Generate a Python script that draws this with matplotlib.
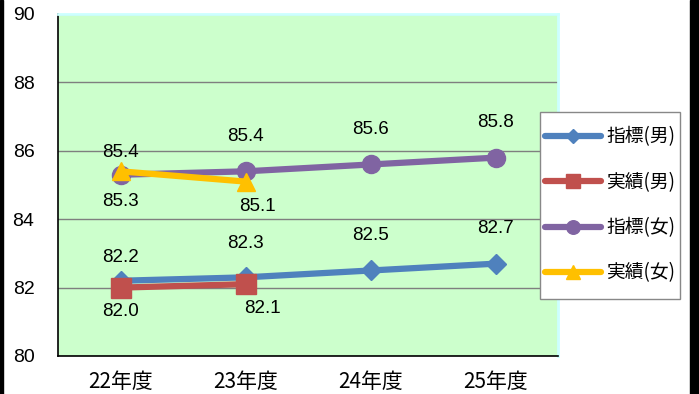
import matplotlib.pyplot as plt
from matplotlib.patches import Rectangle

plt.rcParams['font.family'] = ['Liberation Sans', 'Noto Sans CJK JP', 'DejaVu Sans']

years = ['22年度', '23年度', '24年度', '25年度']
target_m = [82.2, 82.3, 82.5, 82.7]
actual_m = [82.0, 82.1]
target_f = [85.3, 85.4, 85.6, 85.8]
actual_f = [85.4, 85.1]

# (series, values, colour, marker, size, label offsets in px)
series = [
    ('指標(男)', target_m, '#4f81bd', 'D', 10, [(0, 23), (0, 34), (0, 35), (0, 35)]),
    ('実績(男)', actual_m, '#c0504d', 's', 14, [(0, -24), (17, -24)]),
    ('指標(女)', target_f, '#8064a2', 'o', 13, [(0, -27), (0, 35), (0, 35), (0, 35)]),
    ('実績(女)', actual_f, '#ffc000', '^', 13, [(0, 19), (12, -25)]),
]

fig = plt.figure(figsize=(6.99, 3.94), dpi=100)
ax = fig.add_axes([58 / 699, 38 / 394, 500 / 699, 342 / 394])
ax.set_facecolor('#ccffcc')

x = list(range(len(years)))
for name, vals, color, marker, ms, offs in series:
    xs = x[:len(vals)]
    ax.plot(xs, vals, color=color, lw=4.5, marker=marker, ms=ms,
            label=name, solid_capstyle='round')
    for xi, v, (dx, dy) in zip(xs, vals, offs):
        ax.annotate(f'{v:.1f}', (xi, v), xytext=(dx * 0.72, dy * 0.72),
                    textcoords='offset points', ha='center', va='center',
                    fontsize=13.5, color='black')

ax.set_xlim(-0.5, 3.5)
ax.set_ylim(80, 90)
ax.set_yticks([80, 82, 84, 86, 88, 90])
ax.set_xticks(x)
ax.set_xticklabels(years, family=['Noto Sans CJK JP'])
ax.tick_params(axis='y', length=0, pad=17, labelsize=14)
ax.tick_params(axis='x', length=0, pad=11, labelsize=15)
ax.grid(axis='y', color='#7f7f7f', lw=1)
ax.set_axisbelow(True)
for side in ('left', 'bottom'):
    ax.spines[side].set_color('black')
    ax.spines[side].set_linewidth(1.2)
for side in ('top', 'right'):
    ax.spines[side].set_color('#ccffff')
    ax.spines[side].set_linewidth(2)

# legend box drawn separately so the padding can be set per side
fig.patches.append(Rectangle((540 / 699, 1 - 299 / 394), 140 / 699, 187 / 394,
                             transform=fig.transFigure, facecolor='white',
                             edgecolor='#888888', lw=1, zorder=3))
leg = fig.legend(loc='center left', bbox_to_anchor=(545 / 699, 1 - 205 / 394),
                 frameon=False, prop={'family': ['Noto Sans CJK JP'], 'size': 13.5},
                 handlelength=3.0, handletextpad=0.25, labelspacing=1.3,
                 borderpad=0, borderaxespad=0, markerscale=0.75)
leg.set_zorder(4)

# dark strips at the left and right edges
fig.patches.append(Rectangle((0, 0), 3 / 699, 1, transform=fig.transFigure,
                             color='black', zorder=10))
fig.patches.append(Rectangle((690 / 699, 0), 9 / 699, 1, transform=fig.transFigure,
                             color='black', zorder=10))

fig.savefig('out.png', dpi=100)
